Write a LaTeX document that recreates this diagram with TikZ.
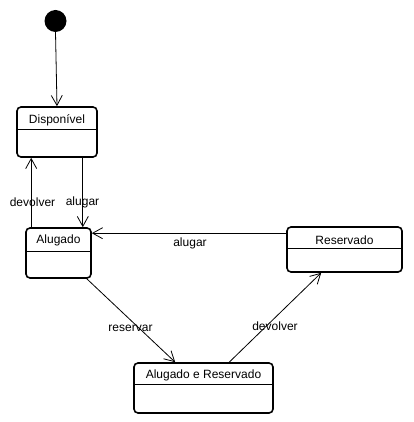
\documentclass[tikz,border=0pt]{standalone}
\usepackage{fontspec}
\setmainfont{Liberation Sans}
\usetikzlibrary{arrows.meta}
\begin{document}
\begin{tikzpicture}[x=1pt,y=-1pt,
  state/.style={draw,line width=1.6pt,rounded corners=4pt,minimum width=#1,inner sep=0pt},
  stxt/.style={font=\fontsize{12}{14}\selectfont,inner sep=0pt},
  lbl/.style={font=\fontsize{12}{14}\selectfont,inner sep=0pt},
  tr/.style={line width=0.8pt,-{Straight Barb[length=10pt,width=11pt,line width=0.8pt]}},
  divl/.style={line width=0.8pt}]
\useasboundingbox (0,0) rectangle (413,422);
\fill[white] (0,0) rectangle (413,422);
% initial state
\node[circle,fill=black,minimum size=22pt,inner sep=0pt] (init) at (55.5,21) {};
% states
\node[state=80pt,minimum height=50pt] (disp) at (57,132) {};
\node[stxt] (dispT) at (57,120) {Disponível};
\draw[divl] ([yshift=-23pt]disp.north west) -- ([yshift=-23pt]disp.north east);

\node[state=65pt,minimum height=50pt] (alug) at (58.5,253) {};
\node[stxt] (alugT) at (58.5,240) {Alugado};
\draw[divl] ([yshift=-24pt]alug.north west) -- ([yshift=-24pt]alug.north east);

\node[state=115pt,minimum height=45pt] (res) at (344.5,249.5) {};
\node[stxt] (resT) at (344.5,240) {Reservado};
\draw[divl] ([yshift=-22pt]res.north west) -- ([yshift=-22pt]res.north east);

\node[state=139pt,minimum height=50pt] (aer) at (203.5,388) {};
\node[stxt] (aerT) at (203.5,375) {Alugado e Reservado};
\draw[divl] ([yshift=-22pt]aer.north west) -- ([yshift=-22pt]aer.north east);

% transitions
\draw[tr] (init.south) -- (disp.north);
\draw[tr] ([xshift=6pt]alug.north west) -- ([xshift=6pt]alug.north west |- disp.south);
\draw[tr] ([xshift=-15pt]disp.south east) -- ([xshift=-15pt]disp.south east |- alug.north);
\draw[tr] ([yshift=-7pt]res.north west) -- ([yshift=-7pt]res.north west -| alug.east);
\draw[tr] ([xshift=-5pt]alug.south east) -- ([xshift=42pt]aer.north west);
\draw[tr] ([xshift=96pt]aer.north west) -- ([xshift=35pt]res.south west);

% labels
\node[lbl] (l1) at (32.5,202) {devolver};
\node[lbl] (l2) at (82.5,202) {alugar};
\node[lbl] (l3) at (190,243) {alugar};
\node[lbl] (l4) at (130.5,328) {reservar};
\node[lbl] (l5) at (275,326) {devolver};
\end{tikzpicture}
\end{document}
